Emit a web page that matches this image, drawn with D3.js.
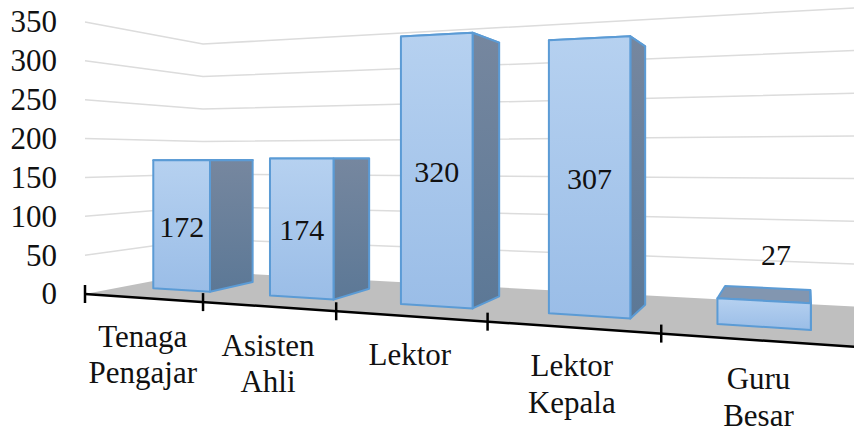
<!DOCTYPE html>
<html>
	<head>
		<title></title>
		<script type="text/javascript" src="https://d3js.org/d3.v7.min.js"></script>
		<style>
			html, body {
				margin: 0;
				padding: 0;
				background-color: #ffffff;
			}
			svg {
				display: block;
			}
			text {
				font-family: "Liberation Serif", serif;
				fill: #111111;
			}
		</style>
	</head>
	<body>
		<div id="chart"></div>

		<script>

			//Chart data
			var categories = ["Tenaga Pengajar","Asisten Ahli","Lektor","Lektor Kepala","Guru Besar"];
			var values = [172,174,320,307,27];
			var valueTicks = [0,50,100,150,200,250,300,350];

			//Canvas dimensions
			var canvasWidth = 854;
			var canvasHeight = 429;

			var canvas = d3.select("#chart").append("svg")
									.attr("width",canvasWidth)
									.attr("height",canvasHeight);

			//World scales: c runs along the categories, depth from front (0) to back wall (1), h is the height
			var catScale = d3.scaleBand().domain(categories).range([0.01,categories.length+0.01]).paddingInner(0.5).paddingOuter(0.25);
			var heightScale = d3.scaleLinear().domain([0,350]).range([0,1]);
			var barFront = 0.3;
			var barBack = 0.7;
			var wallEnd = categories.length + 0.05;

			//Perspective camera, fitted to the reference. Verticals stay vertical so h only touches y
			function project(c,depth,h){
				var w = 1 - 0.0568*c + 0.196*depth;
				return [(85 + 106.5*c + 157.8*depth)/w, (294 - 9.05*c + 30.7*depth - 272*h)/w];
			}

			var line = d3.line();

			//Gradients for the bar faces
			var defs = canvas.append("defs");
			function addGradient(id,top,bottom){
				var g = defs.append("linearGradient").attr("id",id).attr("x1",0).attr("y1",0).attr("x2",0).attr("y2",1);
				g.append("stop").attr("offset","0%").attr("stop-color",top);
				g.append("stop").attr("offset","100%").attr("stop-color",bottom);
			}
			addGradient("frontFill","#b6d1f0","#9abde7");
			addGradient("sideFill","#76879f","#5c7896");

			//Gridlines along left wall and back wall
			canvas.append("g").selectAll("path").data(valueTicks.slice(1)).enter().append("path")
					.attr("d",function(d){
						var h = heightScale(d);
						return line([project(0,0,h),project(0,1,h),project(wallEnd,1,h)]);})
					.attr("fill","none")
					.attr("stroke","#dcdcdc")
					.attr("stroke-width",1.5);

			//Floor
			canvas.append("path")
					.attr("d",line([project(0,0,0),project(wallEnd,0,0),project(wallEnd,1,0),project(0,1,0)])+"Z")
					.attr("fill","#bfbfbf");

			//Bars, painted top, then side, then front
			var bars = canvas.append("g").selectAll("g").data(categories).enter().append("g");

			function face(sel,fill,corners){
				sel.append("path")
					.attr("d",function(d,i){
						var c0 = catScale(d);
						var c1 = c0 + catScale.bandwidth();
						var h = heightScale(values[i]);
						return line(corners(c0,c1,h))+"Z";})
					.attr("fill",fill)
					.attr("stroke","#5b9bd5")
					.attr("stroke-width",2)
					.attr("stroke-linejoin","round");
			}

			face(bars,"#8296b0",function(c0,c1,h){
				return [project(c0,barFront,h),project(c1,barFront,h),project(c1,barBack,h),project(c0,barBack,h)];});
			face(bars,"url(#sideFill)",function(c0,c1,h){
				return [project(c1,barFront,h),project(c1,barBack,h),project(c1,barBack,0),project(c1,barFront,0)];});
			face(bars,"url(#frontFill)",function(c0,c1,h){
				return [project(c0,barFront,h),project(c1,barFront,h),project(c1,barFront,0),project(c0,barFront,0)];});

			//Category axis on the front edge of the floor
			canvas.append("path")
					.attr("d",line([project(0,0,0),project(wallEnd,0,0)]))
					.attr("stroke","#000000")
					.attr("stroke-width",2.5);

			canvas.append("g").selectAll("line").data(d3.range(categories.length+1)).enter().append("line")
					.attr("x1",function(d){return project(d,0,0)[0];})
					.attr("x2",function(d){return project(d,0,0)[0];})
					.attr("y1",function(d){return project(d,0,0)[1]-9;})
					.attr("y2",function(d){return project(d,0,0)[1]+9;})
					.attr("stroke","#000000")
					.attr("stroke-width",2.5);

			//Category labels, wrapped on the space
			var catLabels = canvas.append("g").selectAll("text").data(categories).enter().append("text")
					.attr("text-anchor","middle")
					.style("font-size","31px");

			catLabels.each(function(d,i){
				var p = project(i+0.5,0,0);
				d3.select(this).selectAll("tspan").data(d.split(" ")).enter().append("tspan")
						.attr("x",p[0]+0.5)
						.attr("y",function(t,j){return p[1]+49+j*36.5;})
						.text(function(t){return t;});
			});

			//Value axis sits on the left wall edge, which is a straight vertical
			var axisScale = d3.scaleLinear().domain([0,350]).range([project(0,0,0)[1],project(0,0,1)[1]]);
			var valueAxis = canvas.append("g")
					.attr("transform","translate("+project(0,0,0)[0]+",0)")
					.call(d3.axisLeft(axisScale).tickValues(valueTicks).tickSize(0).tickPadding(28));
			valueAxis.select(".domain").remove();
			valueAxis.selectAll("text")
					.style("font-size","31px")
					.style("fill","#111111");

			//Data labels: mid height on the front face, above the bar when it is too short
			canvas.append("g").selectAll("text").data(values).enter().append("text")
					.attr("text-anchor","middle")
					.style("font-size","30px")
					.attr("x",function(d,i){
						var c = catScale(categories[i]) + catScale.bandwidth()/2;
						if(d < 50){ return project(c,barBack,heightScale(d))[0]+9; }
						return project(c,barFront,heightScale(d)/2)[0]+0.5;})
					.attr("y",function(d,i){
						var c = catScale(categories[i]) + catScale.bandwidth()/2;
						if(d < 50){ return project(c,barBack,heightScale(d))[1]-23; }
						return project(c,barFront,heightScale(d)/2)[1]+12;})
					.text(function(d){return d;});

		</script>
	</body>
</html>
